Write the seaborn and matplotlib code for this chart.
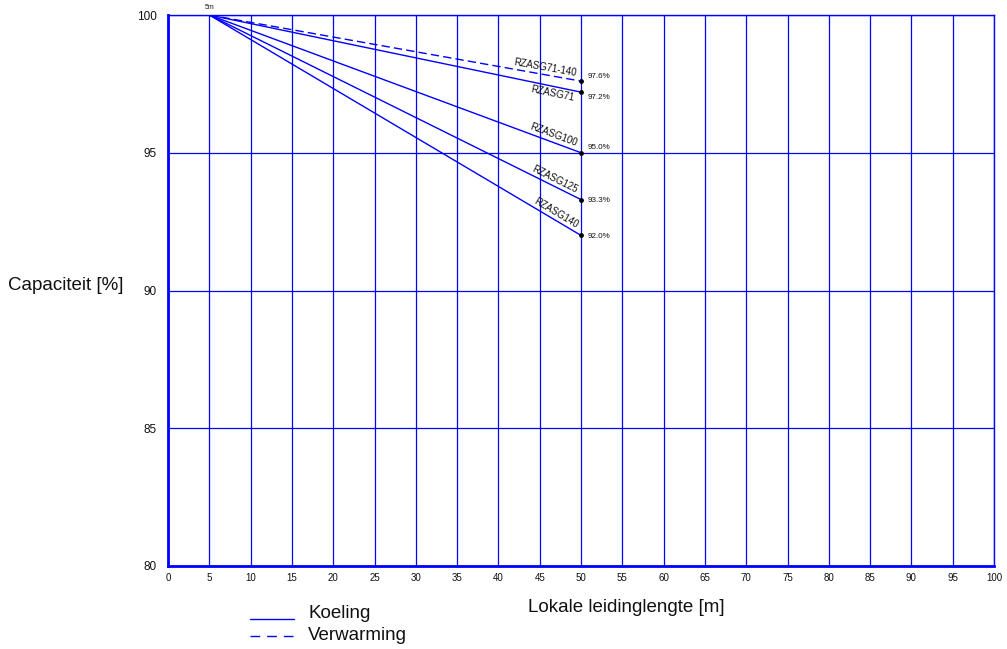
import numpy as np
import pandas as pd
import matplotlib
matplotlib.use("Agg")
import matplotlib.pyplot as plt
import seaborn as sns

# Data
series_names = ["RZASG71-140", "RZASG71", "RZASG100", "RZASG125", "RZASG140"]
series_modes = ["Verwarming", "Koeling", "Koeling", "Koeling", "Koeling"]
start_length = 5
end_length = 50
end_values = [97.6, 97.2, 95.0, 93.3, 92.0]
x_ticks = list(range(0, 101, 5))
y_ticks = [80, 85, 90, 95, 100]

rows = []
for name, mode, v in zip(series_names, series_modes, end_values):
    rows.append({"serie": name, "modus": mode, "lengte": start_length, "cap": 100.0})
    rows.append({"serie": name, "modus": mode, "lengte": end_length, "cap": v})
df = pd.DataFrame(rows)

sns.set_theme(style="white")
plt.rcParams['font.family'] = ['Liberation Sans', 'DejaVu Sans']

fig = plt.figure(figsize=(10.07, 6.49), dpi=100)
ax = fig.add_axes([168/1007, 1-566/649, (994-168)/1007, (566-15)/649])

blue = "#0000ff"
ax.set_xlim(0, 100)
ax.set_ylim(80, 100)
ax.set_xticks(x_ticks)
ax.set_yticks(y_ticks)
for xv in x_ticks:
    ax.axvline(xv, color=blue, lw=0.9, zorder=1)
for yv in y_ticks:
    ax.axhline(yv, color=blue, lw=0.9, zorder=1)

sns.lineplot(data=df, x="lengte", y="cap", units="serie", estimator=None,
             style="modus", style_order=["Koeling", "Verwarming"],
             dashes={"Koeling": "", "Verwarming": (6, 3)},
             color=blue, lw=1.0, ax=ax, legend=False, zorder=3)
ax.scatter([end_length]*len(end_values), end_values, s=6, color="black", zorder=4)

for side in ["left", "bottom"]:
    ax.spines[side].set_color(blue)
    ax.spines[side].set_linewidth(2)
for side in ["top", "right"]:
    ax.spines[side].set_color(blue)
    ax.spines[side].set_linewidth(1)

ax.tick_params(axis="x", labelsize=7, length=0, pad=5, labelcolor="#111111")
ax.tick_params(axis="y", labelsize=8.5, length=0, pad=8, labelcolor="#111111")
ax.set_xticklabels([str(t) for t in x_ticks])
ax.set_yticklabels([str(t) for t in y_ticks])
ax.set_xlabel("")
ax.set_ylabel("")

fig.text(66/1007, 1-285/649, "Capaciteit [%]", fontsize=13.5, ha="center", va="center", color="#111111")
fig.text(626/1007, 1-607/649, "Lokale leidinglengte [m]", fontsize=13.5, ha="center", va="center", color="#111111")

# labels along lines
pct_offsets = [5, -5, 5, -1, -1]
fig.canvas.draw()
for name, v, off in zip(series_names, end_values, pct_offsets):
    p0 = ax.transData.transform((start_length, 100))
    p1 = ax.transData.transform((end_length, v))
    ang = np.degrees(np.arctan2(p1[1]-p0[1], p1[0]-p0[0]))
    xl = 49.3
    yl = 100 + (v - 100) * (xl - start_length) / (end_length - start_length)
    if name == "RZASG71":
        ax.annotate(name, (xl, yl), xytext=(0, -1.5), textcoords="offset points",
                    rotation=ang, rotation_mode="anchor", ha="right", va="top",
                    fontsize=7, color="#111111", zorder=5)
    else:
        ax.annotate(name, (xl, yl), xytext=(0, 1.5), textcoords="offset points",
                    rotation=ang, rotation_mode="anchor", ha="right", va="bottom",
                    fontsize=7, color="#111111", zorder=5)
    ax.annotate(f"{v:.1f}%", (end_length, v), xytext=(5, off * 0.72), textcoords="offset points",
                ha="left", va="center", fontsize=5.8, color="#111111", zorder=5)

ax.annotate("5m", (start_length, 100), xytext=(0, 3), textcoords="offset points",
            ha="center", va="bottom", fontsize=5, color="#111111", annotation_clip=False)

# legend
fig.lines.append(plt.Line2D([250/1007, 294/1007], [1-619/649]*2, color=blue, lw=1, transform=fig.transFigure))
fig.lines.append(plt.Line2D([250/1007, 294/1007], [1-636/649]*2, color=blue, lw=1, ls=(0, (7, 5)), transform=fig.transFigure))
fig.text(308/1007, 1-614/649, "Koeling", fontsize=13.5, ha="left", va="center", color="#111111")
fig.text(308/1007, 1-635/649, "Verwarming", fontsize=13.5, ha="left", va="center", color="#111111")

fig.savefig("out.png", dpi=100)
